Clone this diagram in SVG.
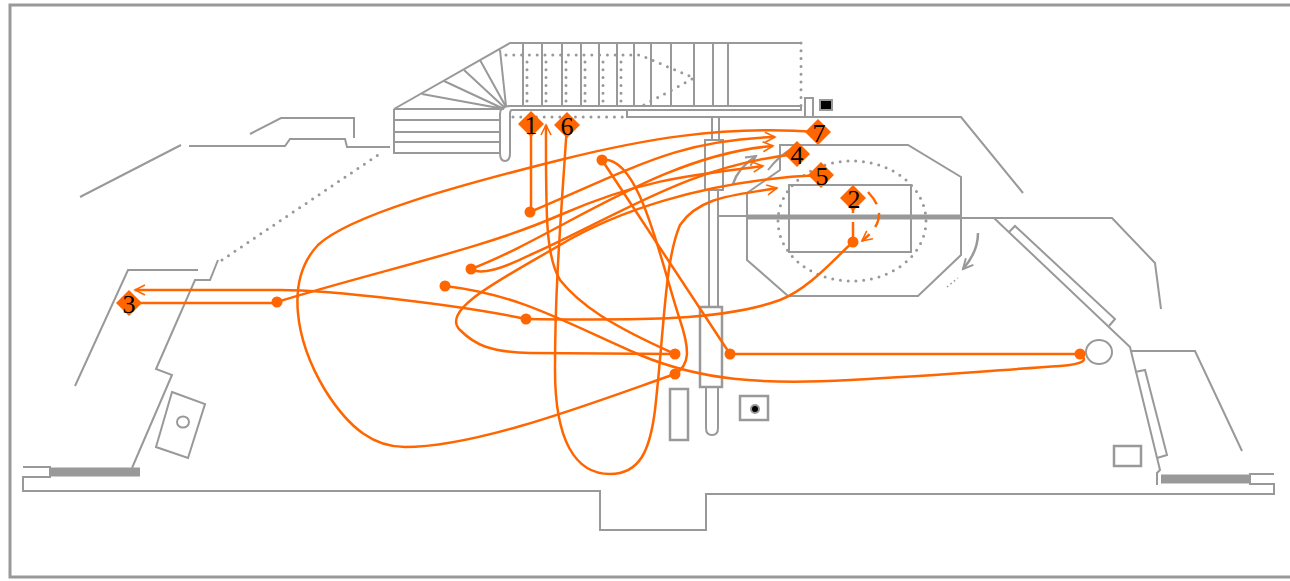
<svg xmlns="http://www.w3.org/2000/svg" width="1290" height="581" viewBox="0 0 1290 581">
<style>
.w{fill:none;stroke:#999;stroke-width:2}
.t{fill:none;stroke:#999;stroke-width:2.5}
.d{fill:none;stroke:#999;stroke-width:3;stroke-linecap:round;stroke-dasharray:0 7.8}
.c{fill:none;stroke:#f60;stroke-width:2.5}
.a{marker-end:url(#arr)}
.dot{fill:#f60}
.dm{fill:#f60}
text{font-family:"Liberation Serif",serif;font-size:26px;fill:#000;text-anchor:middle}
</style>
<defs><marker id="arr" markerUnits="userSpaceOnUse" markerWidth="14" markerHeight="12" refX="12" refY="6" orient="auto"><path d="M2 1L12 6L2 11" fill="none" stroke="#f60" stroke-width="1.6"/></marker>
<marker id="garr" markerUnits="userSpaceOnUse" markerWidth="14" markerHeight="14" refX="12" refY="7" orient="auto"><path d="M2 2L12 7L2 12" fill="none" stroke="#999" stroke-width="2"/></marker></defs>
<rect width="1290" height="581" fill="#fff"/>
<g id="plan">
<path d="M1290 5H10V577H1290" fill="none" stroke="#999" stroke-width="3"/>
<path class="w" d="M23 467H50V477H23V491H600V530H706V494H1274V484H1250V474H1274"/>
<path d="M49 472H140" fill="none" stroke="#999" stroke-width="9"/>
<path d="M1161 479H1251" fill="none" stroke="#999" stroke-width="9"/>
<path class="w" d="M132 468L172 375L156 369L195 280H210L218 260"/>
<path class="d" d="M222 260L381 153"/>
<path class="w" d="M75 386L128 270H198"/>
<path class="w" d="M80 197L181 145"/>
<path class="w" d="M189 146H285L290 139H345L347 147H390"/>
<path class="w" d="M250 134L281 118H354V138"/>
<path class="w" d="M170 0" />
<path class="w" d="M172 392L205 404L188 458L156 447Z"/>
<ellipse class="w" cx="183" cy="422" rx="6" ry="5.500"/>
<path class="w" d="M394 109L510 43H800M394 109V153H500M394 120H500M394 132H500M394 142H500"/>
<path class="w" d="M394 109H500M422 94L504 109M444 81L504 109M464 70L505 108M480 60L506 107M500 50L506 106"/>
<path class="w" d="M523 43V106M542 43V106M562 43V106M581 43V106M599 43V106M617 43V106M634 43V106M651 43V106M671 43V106M694 43V106M713 43V106M728 43V106"/>
<path class="w" d="M500 153V114Q500 106 510 106H801V110H512Q510 110 510 114V153Q510 161 505 161Q500 161 500 153"/>
<path class="d" d="M506 55H640L694 78L642 106"/>
<path class="d" d="M527 62V106M546 62V106M566 62V106M585 62V106M603 62V106M621 62V106"/>
<path class="d" d="M801 43V106"/>
<path class="d" d="M513 117H627"/>
<path class="w" d="M627 110V117H961L1023 193"/>
<path class="w" d="M805 117V98H813V117"/>
<rect x="820" y="100" width="12" height="10" fill="#000" stroke="#999" stroke-width="2"/>
<path class="w" d="M712 117V140M719 117V140"/>
<rect class="w" x="705" y="140" width="18" height="50"/>
<path class="w" d="M709 190V306M718 190V306"/>
<rect class="t" x="700" y="307" width="22" height="80"/>
<path class="w" d="M706 387V428Q706 435 712 435Q718 435 718 428V387"/>
<rect class="t" x="670" y="389" width="18" height="51"/>
<rect class="t" x="740" y="396" width="28" height="24"/>
<circle cx="755" cy="409" r="4" fill="#000" stroke="#999" stroke-width="2"/>
<path class="w" d="M717 216H747M747 193L780 170V145H908L961 177V217M961 217V255L918 296H788L747 260V193"/>
<path d="M747 217H961" fill="none" stroke="#999" stroke-width="5"/>
<path class="w" d="M961 218H1112L1155 263L1161 309"/>
<rect class="w" x="789" y="185" width="122" height="67"/>
<ellipse class="d" cx="852" cy="221" rx="74" ry="60"/>
<path class="w" d="M994 218L1130 347L1160 470L1157 473V485"/>
<path class="w" d="M1009 232L1015 226L1115 319L1109 326"/>
<path class="w" d="M1130 351H1195L1242 451"/>
<path class="w" d="M1135 372L1145 370L1167 455L1157 458"/>
<ellipse class="w" cx="1099" cy="352" rx="13" ry="12"/>
<rect class="t" x="1114" y="446" width="27" height="20"/>
<path d="M733 184Q738 168 756 156" fill="none" stroke="#999" stroke-width="2.500" marker-end="url(#garr)"/>
<path d="M768 170Q780 155 790 150" fill="none" stroke="#999" stroke-width="2"/>
<path d="M978 233Q978 252 963 269" fill="none" stroke="#999" stroke-width="2.500" marker-end="url(#garr)"/>
<path d="M947 287L958 278" fill="none" stroke="#999" stroke-width="1.500" stroke-dasharray="1.500 3"/>
</g>
<g id="connectors">
<path class="c" d="M531 124V212"/>
<path class="c a" d="M530 212C640 165 680 140 775 137"/>
<path class="c a" d="M471 269C560 235 660 155 773 146"/>
<path class="c" d="M797 154C690 165 620 215 530 255C500 270 480 275 471 269"/>
<path class="c" d="M129 303H277"/>
<path class="c a" d="M277 302C380 270 480 250 560 215C640 180 690 175 763 166"/>
<path class="c a" d="M526 319C460 305 330 290 280 290H135"/>
<path class="c" d="M526 319C630 320 720 322 780 300C810 288 835 258 853 242"/>
<path class="c" d="M853 198V242" stroke-dasharray="15 9"/>
<path class="c a" stroke-dasharray="15 9" d="M868 192C885 210 882 225 862 241"/>
<path class="c" d="M818 132C720 125 640 140 560 160C460 185 350 215 318 245C285 280 295 340 325 390C350 430 375 447 405 447C480 447 600 400 675 374"/>
<path class="c" d="M821 175C700 180 610 215 560 245C500 280 440 310 460 330C475 345 490 352 530 353L675 354"/>
<path class="c a" d="M567 125C560 230 555 290 555 370C555 440 575 474 610 474C640 474 650 450 655 410C665 320 665 260 680 225C700 195 740 195 777 188"/>
<path class="c a" d="M675 354C610 325 580 305 560 280C545 255 546 210 546 125"/>
<path class="c" d="M602 160L730 354"/>
<path class="c" d="M730 354H1080"/>
<path class="c" d="M602 160C640 155 660 260 680 320C690 350 690 365 675 374"/>
<path class="c" d="M445 286C520 295 560 320 640 355C700 380 760 385 850 380C930 376 1000 370 1060 366C1085 364 1088 360 1080 354"/>
<circle class="dot" cx="530" cy="212" r="5.500"/><circle class="dot" cx="471" cy="269" r="5.500"/><circle class="dot" cx="445" cy="286" r="5.500"/><circle class="dot" cx="277" cy="302" r="5.500"/><circle class="dot" cx="526" cy="319" r="5.500"/><circle class="dot" cx="602" cy="160" r="5.500"/><circle class="dot" cx="675" cy="354" r="5.500"/><circle class="dot" cx="675" cy="374" r="5.500"/><circle class="dot" cx="730" cy="354" r="5.500"/><circle class="dot" cx="1080" cy="354" r="5.500"/><circle class="dot" cx="853" cy="242" r="5.500"/>
</g>
<g id="node1"><path class="dm" d="M531 111L544 124L531 137L518 124Z"/><text x="531" y="134">1</text></g>
<g id="node2"><path class="dm" d="M853 185L866 198L853 211L840 198Z"/><text x="854" y="208">2</text></g>
<g id="node3"><path class="dm" d="M129 290L142 303L129 316L116 303Z"/><text x="129" y="313">3</text></g>
<g id="node4"><path class="dm" d="M797 141L810 154L797 167L784 154Z"/><text x="797" y="164">4</text></g>
<g id="node5"><path class="dm" d="M821 162L834 175L821 188L808 175Z"/><text x="822" y="185">5</text></g>
<g id="node6"><path class="dm" d="M567 112L580 125L567 138L554 125Z"/><text x="567" y="135">6</text></g>
<g id="node7"><path class="dm" d="M818 119L831 132L818 145L805 132Z"/><text x="819" y="142">7</text></g>
</svg>
